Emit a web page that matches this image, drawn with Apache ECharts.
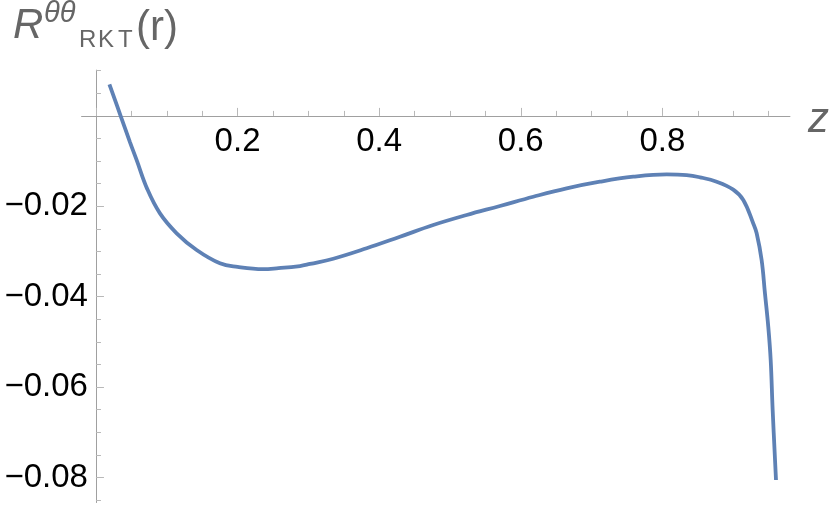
<!DOCTYPE html>
<html>
<head>
<meta charset="utf-8">
<script src="https://cdn.jsdelivr.net/npm/echarts@6/dist/echarts.min.js"></script>
<style>
html,body{margin:0;padding:0;background:#fff;}
#chart{width:830px;height:505px;}
</style>
</head>
<body>
<div id="chart"></div>
<script>
// Data
const zValues = [0.019, 0.0353, 0.048, 0.0575, 0.0725, 0.0904, 0.114, 0.1422, 0.1751, 0.2, 0.236, 0.2552, 0.2881, 0.3023, 0.3352, 0.3823, 0.4294, 0.4764, 0.5236, 0.5706, 0.6177, 0.6648, 0.7119, 0.7589, 0.8061, 0.8343, 0.8531, 0.8767, 0.9001, 0.9143, 0.9284, 0.9332, 0.9402, 0.9449, 0.9496, 0.953, 0.9558, 0.9605];
const rValues = [0.0070, -0.0002, -0.0058, -0.0098, -0.0162, -0.02157, -0.02597, -0.02967, -0.03261, -0.0334, -0.0339, -0.03372, -0.03321, -0.03275, -0.0316, -0.02929, -0.02673, -0.02414, -0.02193, -0.01993, -0.01788, -0.01602, -0.01456, -0.01345, -0.01292, -0.01308, -0.01358, -0.01456, -0.0163, -0.0186, -0.0238, -0.02597, -0.03188, -0.03925, -0.04664, -0.054, -0.06507, -0.08055];
const xMajorTicks = [0, 0.2, 0.4, 0.6, 0.8];
const xLabelTicks = [0.2, 0.4, 0.6, 0.8];
const xMinorTicks = [0.05, 0.1, 0.15, 0.25, 0.3, 0.35, 0.45, 0.5, 0.55, 0.65, 0.7, 0.75, 0.85, 0.9, 0.95];
const yMajorTicks = [-0.08, -0.06, -0.04, -0.02];
const yMinorTicks = [0.01, 0.005, -0.005, -0.01, -0.015, -0.025, -0.03, -0.035, -0.045, -0.05, -0.055, -0.065, -0.07, -0.075, -0.085];

const seriesData = zValues.map((z, i) => [z, rValues[i]]);

const FONT = 'Liberation Sans, Arial, sans-serif';
const AXIS_COLOR = '#a0a0a0';
const TICK_COLOR = '#b8b8b8';
const X_MIN = -0.02, X_MAX = 0.98, Y_MIN = -0.0855, Y_MAX = 0.0101;
const G_LEFT = 81.8, G_RIGHT = 40.2, G_TOP = 70.25, G_BOTTOM = 2.64;

const chart = echarts.init(document.getElementById('chart'), null, {renderer: 'canvas'});
const W = 830, H = 505;
const gh = H - G_TOP - G_BOTTOM, gw = W - G_LEFT - G_RIGHT;
// offsets so that the axes sit at the zero lines
const xOffset = -(gh * (0 - Y_MIN) / (Y_MAX - Y_MIN));
const yOffset = -(gw * (0 - X_MIN) / (X_MAX - X_MIN));

function xAxisCfg(ticks, len, labels) {
  return {
    type: 'value', min: X_MIN, max: X_MAX, position: 'bottom', offset: xOffset,
    axisLine: {show: true, onZero: false, lineStyle: {color: AXIS_COLOR, width: 1}},
    axisTick: {show: true, inside: true, length: len, customValues: ticks, lineStyle: {color: TICK_COLOR, width: 1}},
    axisLabel: {show: !!labels, customValues: labels || ticks, formatter: v => v.toFixed(1), fontSize: 33, color: '#000', fontFamily: FONT, margin: 10},
    splitLine: {show: false}, minorTick: {show: false}
  };
}
function yAxisCfg(ticks, len, labels) {
  return {
    type: 'value', min: Y_MIN, max: Y_MAX, position: 'left', offset: yOffset,
    axisLine: {show: true, onZero: false, lineStyle: {color: AXIS_COLOR, width: 1}},
    axisTick: {show: true, inside: true, length: len, customValues: ticks, lineStyle: {color: TICK_COLOR, width: 1}},
    axisLabel: {show: !!labels, customValues: labels || ticks, formatter: v => '\u2212' + Math.abs(v).toFixed(2), fontSize: 33, color: '#000', fontFamily: FONT, margin: 8},
    splitLine: {show: false}, minorTick: {show: false}
  };
}

const option = {
  animation: false,
  backgroundColor: '#fff',
  grid: {left: G_LEFT, right: G_RIGHT, top: G_TOP, bottom: G_BOTTOM, containLabel: false, outerBoundsMode: 'none'},
  xAxis: [xAxisCfg(xMajorTicks, 8, xLabelTicks), xAxisCfg(xMinorTicks, 5, null)],
  yAxis: [yAxisCfg(yMajorTicks, 8, yMajorTicks), yAxisCfg(yMinorTicks, 5, null)],
  graphic: [
    {type: 'text', left: 13, top: 5, style: {text: 'R', font: 'italic 42px ' + FONT, fill: '#666'}},
    {type: 'text', left: 44, top: -1, style: {text: '\u03b8\u03b8', font: 'italic 29px ' + FONT, fill: '#666'}},
    {type: 'text', left: 79, top: 28, style: {text: 'R', font: '24px ' + FONT, fill: '#666'}},
    {type: 'text', left: 98, top: 28, style: {text: 'K', font: '24px ' + FONT, fill: '#666'}},
    {type: 'text', left: 118, top: 28, style: {text: 'T', font: '24px ' + FONT, fill: '#666'}},
    {type: 'text', left: 136, top: 7, style: {text: '(r)', font: '42px ' + FONT, fill: '#666'}},
    {type: 'text', left: 808, top: 99, style: {text: 'z', font: 'italic 42px ' + FONT, fill: '#666'}}
  ],
  series: [{
    type: 'line', xAxisIndex: 0, yAxisIndex: 0,
    data: seriesData, showSymbol: false, smooth: 0.4,
    lineStyle: {color: '#5E81B5', width: 3.8}, clip: false
  }]
};
chart.setOption(option);
</script>
</body>
</html>
